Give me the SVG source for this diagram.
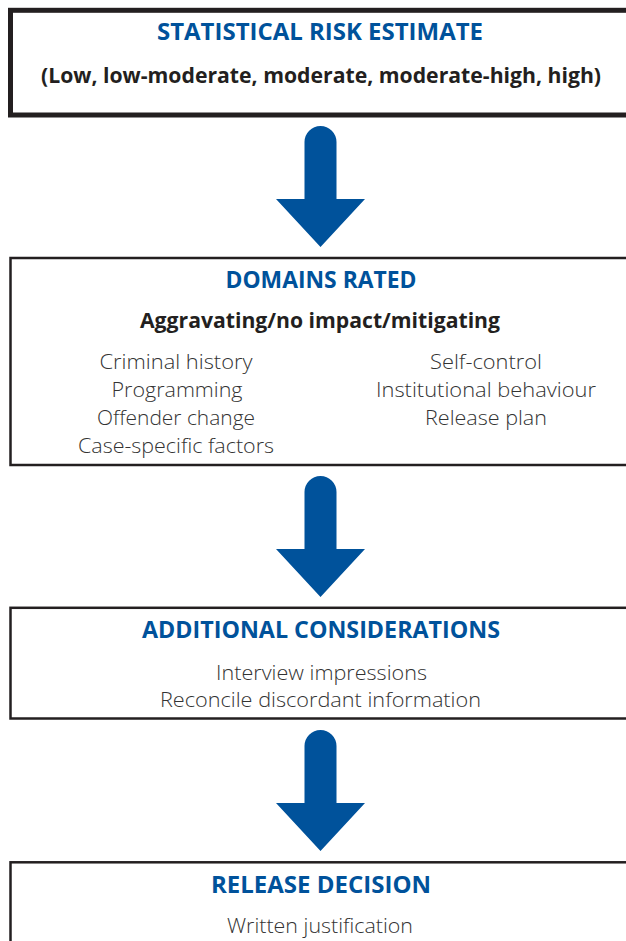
<svg xmlns="http://www.w3.org/2000/svg" xmlns:xlink="http://www.w3.org/1999/xlink" width="626" height="941" viewBox="0 0 626 941">
<style>
.box{fill:#fff;stroke:#231F20;stroke-width:2.5}
.boxthick{fill:#fff;stroke:#231F20;stroke-width:5}
.head{font-family:"Open Sans","Liberation Sans",sans-serif;font-weight:700;font-size:23px;fill:#00529B;text-anchor:middle}
.sub{font-family:"Open Sans","Liberation Sans",sans-serif;font-weight:700;font-size:20.5px;fill:#231F20;text-anchor:middle}
.body{font-family:"Open Sans","Liberation Sans",sans-serif;font-weight:300;font-size:20.5px;fill:#333;text-anchor:middle}
.arrow{fill:#00529B}
</style>
<defs>
<path id="arr" d="M-16,73 L-16,16 A16,16 0 0 1 16,16 L16,73 L44.5,73 L0,121 L-44.5,73 Z"/>
</defs>
<rect width="626" height="941" fill="#fff"/>
<g id="connectors">
<use xlink:href="#arr" class="arrow" transform="translate(320.5,126)"/>
<use xlink:href="#arr" class="arrow" transform="translate(320.5,476)"/>
<use xlink:href="#arr" class="arrow" transform="translate(320.5,730)"/>
</g>
<g id="statistical-risk-estimate">
<rect class="boxthick" x="10.5" y="10.3" width="700" height="104.7"/>
<text class="head" x="320" y="40" textLength="326" lengthAdjust="spacingAndGlyphs">STATISTICAL RISK ESTIMATE</text>
<text class="sub" x="321" y="82.7" textLength="560" lengthAdjust="spacingAndGlyphs">(Low, low-moderate, moderate, moderate-high, high)</text>
</g>
<g id="domains-rated">
<rect class="box" x="10.5" y="258" width="700" height="207"/>
<text class="head" x="321" y="288.3" textLength="191" lengthAdjust="spacingAndGlyphs">DOMAINS RATED</text>
<text class="sub" x="320" y="328.3" textLength="360" lengthAdjust="spacingAndGlyphs">Aggravating/no impact/mitigating</text>
<text class="body" x="176" y="369.3" textLength="153" lengthAdjust="spacingAndGlyphs">Criminal history</text>
<text class="body" x="177" y="397" textLength="131" lengthAdjust="spacingAndGlyphs">Programming</text>
<text class="body" x="176" y="425" textLength="158" lengthAdjust="spacingAndGlyphs">Offender change</text>
<text class="body" x="176" y="452.7" textLength="196" lengthAdjust="spacingAndGlyphs">Case-specific factors</text>
<text class="body" x="486" y="369.3" textLength="112" lengthAdjust="spacingAndGlyphs">Self-control</text>
<text class="body" x="486" y="397" textLength="220" lengthAdjust="spacingAndGlyphs">Institutional behaviour</text>
<text class="body" x="486" y="425" textLength="122" lengthAdjust="spacingAndGlyphs">Release plan</text>
</g>
<g id="additional-considerations">
<rect class="box" x="10.5" y="607.8" width="700" height="110.7"/>
<text class="head" x="321" y="638.3" textLength="358" lengthAdjust="spacingAndGlyphs">ADDITIONAL CONSIDERATIONS</text>
<text class="body" x="321.5" y="680" textLength="211" lengthAdjust="spacingAndGlyphs">Interview impressions</text>
<text class="body" x="320.5" y="707.3" textLength="321" lengthAdjust="spacingAndGlyphs">Reconcile discordant information</text>
</g>
<g id="release-decision">
<rect class="box" x="10.5" y="862.3" width="700" height="200"/>
<text class="head" x="321" y="893.3" textLength="220" lengthAdjust="spacingAndGlyphs">RELEASE DECISION</text>
<text class="body" x="320" y="932.5" textLength="186" lengthAdjust="spacingAndGlyphs">Written justification</text>
</g>
</svg>
